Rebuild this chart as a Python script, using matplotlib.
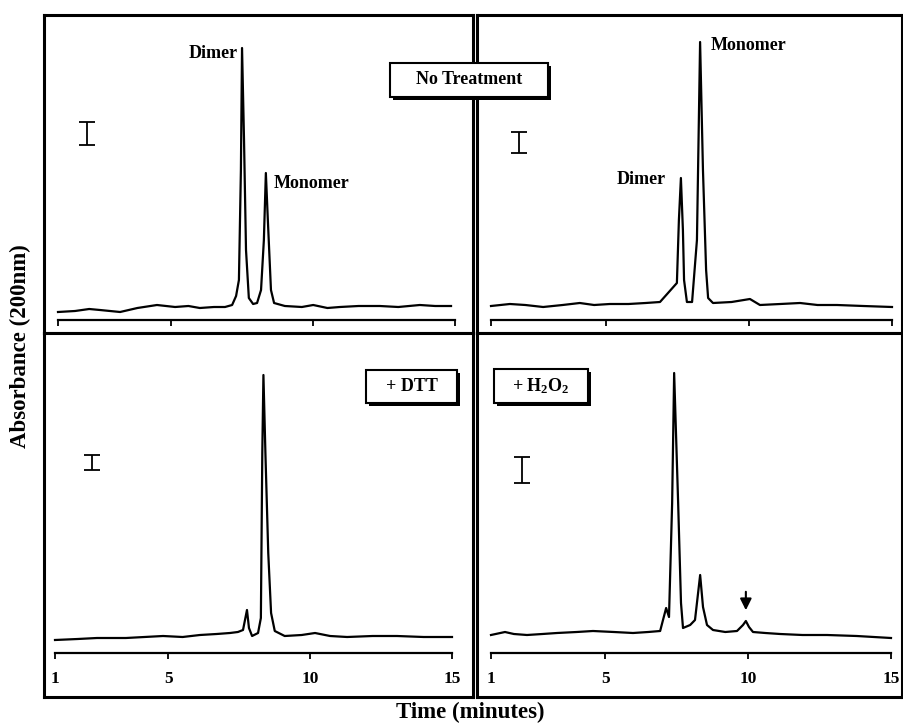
import matplotlib
matplotlib.use("Agg")
import matplotlib.pyplot as plt
from matplotlib.patches import Rectangle

# bold Times-like text everywhere, subscripts too
plt.rcParams['font.family'] = ['Liberation Serif', 'DejaVu Serif']
plt.rcParams['font.weight'] = 'bold'
plt.rcParams['mathtext.fontset'] = 'custom'
plt.rcParams['mathtext.rm'] = 'Liberation Serif:bold'
plt.rcParams['mathtext.it'] = 'Liberation Serif:bold'
plt.rcParams['mathtext.bf'] = 'Liberation Serif:bold'

# ---- data (time in minutes, absorbance in arbitrary units)
time_ticks = [1, 5, 10, 15]

notreat_a_time = [1.0, 1.6, 2.1, 2.48, 3.19, 3.8, 4.49, 5.13, 5.6, 6.0, 6.5, 6.89, 7.14, 7.28,
                  7.38, 7.45, 7.49, 7.56, 7.63, 7.73, 7.88, 8.02, 8.16, 8.26, 8.33, 8.40, 8.51,
                  8.62, 9.0, 9.6, 10.0, 10.5, 10.94, 11.6, 12.35, 13.0, 13.76, 14.3, 14.86]
notreat_a_abs = [8, 9, 11, 10, 8, 12, 15, 13, 14, 12, 13, 13, 15, 24,
                 40, 150, 272, 180, 70, 22, 16, 17, 30, 80, 147, 100, 30,
                 17, 14, 13, 15, 12, 13, 14, 14, 13, 15, 14, 14]

notreat_b_time = [1.0, 1.66, 2.2, 2.82, 3.5, 4.1, 4.6, 5.15, 5.8, 6.4, 6.9, 7.18, 7.49, 7.56,
                  7.63, 7.70, 7.74, 7.84, 8.02, 8.19, 8.30, 8.40, 8.51, 8.58, 8.75, 9.4,
                  10.04, 10.39, 11.1, 11.79, 12.4, 13.08, 14.0, 15.0]
notreat_b_abs = [14, 16, 15, 13, 15, 17, 15, 16, 16, 17, 18, 27, 37, 100,
                 142, 90, 40, 18, 18, 80, 278, 150, 50, 22, 17, 18,
                 21, 15, 16, 17, 15, 15, 14, 13]

dtt_time = [1.0, 1.8, 2.48, 3.5, 4.81, 5.5, 6.11, 6.7, 7.17, 7.45, 7.63, 7.77, 7.84, 7.95,
            8.16, 8.26, 8.31, 8.35, 8.42, 8.52, 8.62, 8.75, 9.1, 9.7, 10.17, 10.7, 11.3,
            12.2, 13.06, 14.0, 15.0]
dtt_abs = [13, 14, 15, 15, 17, 16, 18, 19, 20, 21, 23, 43, 25, 17,
           20, 35, 200, 278, 200, 100, 40, 22, 17, 18, 20, 17, 16,
           17, 17, 16, 16]

h2o2_time = [1.0, 1.49, 1.8, 2.26, 2.8, 3.31, 4.0, 4.57, 5.3, 5.97, 6.5, 6.92, 7.02, 7.13,
             7.23, 7.34, 7.41, 7.55, 7.65, 7.72, 7.97, 8.14, 8.32, 8.42, 8.56, 8.77, 9.2,
             9.61, 9.82, 9.92, 10.03, 10.17, 10.6, 11.12, 11.9, 12.76, 13.8, 15.0]
h2o2_abs = [18, 21, 19, 18, 19, 20, 21, 22, 21, 20, 21, 22, 33, 45,
            36, 150, 280, 150, 50, 25, 28, 33, 78, 46, 28, 23, 21,
            22, 28, 32, 26, 21, 20, 19, 18, 18, 17, 15]

# scale bars: (time, low, high)
scale_bars = [(2.02, 175, 198), (1.98, 167, 188), (2.30, 183, 198), (2.09, 170, 196)]

W, H = 904, 726


def frac(x0, y0, x1, y1):
    # pixel box (from top-left) -> figure fraction rect
    return [x0 / W, 1 - y1 / H, (x1 - x0) / W, (y1 - y0) / H]


panels = [
    dict(frame=(44, 15, 473, 333), inner=(58, 25, 455, 320), t=notreat_a_time, a=notreat_a_abs,
         top=295, labels=False,
         notes=[("Dimer", 7.35, 266, "right"), ("Monomer", 8.62, 137, "left")]),
    dict(frame=(477, 15, 902, 333), inner=(491, 25, 892, 320), t=notreat_b_time, a=notreat_b_abs,
         top=295, labels=False,
         notes=[("Monomer", 8.68, 275, "left"), ("Dimer", 7.11, 140, "right")]),
    dict(frame=(44, 333, 473, 697), inner=(55, 343, 452, 653), t=dtt_time, a=dtt_abs,
         top=310, labels=True, notes=[]),
    dict(frame=(477, 333, 902, 697), inner=(491, 343, 891, 653), t=h2o2_time, a=h2o2_abs,
         top=310, labels=True, notes=[]),
]

fig = plt.figure(figsize=(W / 100, H / 100), dpi=100)

for i, p in enumerate(panels):
    # thick panel frame
    fr = fig.add_axes(frac(*p['frame']))
    fr.set_xticks([])
    fr.set_yticks([])
    for s in fr.spines.values():
        s.set_linewidth(2.2)

    # chromatogram with its own time axis
    ax = fig.add_axes(frac(*p['inner']))
    ax.patch.set_alpha(0)
    ax.plot(p['t'], p['a'], color='black', lw=1.6, clip_on=False)
    ax.set_xlim(1, 15)
    ax.set_ylim(0, p['top'])
    ax.set_xticks(time_ticks)
    ax.tick_params(axis='x', direction='out', length=4, width=1.3, labelsize=12.5, pad=9,
                   labelbottom=p['labels'])
    ax.yaxis.set_visible(False)
    for side in ['top', 'left', 'right']:
        ax.spines[side].set_visible(False)
    ax.spines['bottom'].set_linewidth(1.6)

    bt, lo, hi = scale_bars[i]
    ax.errorbar([bt], [(lo + hi) / 2], yerr=[(hi - lo) / 2], color='black', lw=1.3,
                capsize=5.5, capthick=1.3, fmt='none')

    for txt, tx, ty, ha in p['notes']:
        ax.text(tx, ty, txt, ha=ha, va='center', fontsize=13)

    if i == 3:
        ax.annotate('', xy=(9.92, 40), xytext=(9.92, 64),
                    arrowprops=dict(arrowstyle='-|>', color='black', lw=1.5, mutation_scale=17))


def label_box(x0, y0, x1, y1, text):
    # white box with a drop shadow on the right/bottom
    fig.add_artist(Rectangle((x0 / W + 3 / W, 1 - (y1 + 3) / H), (x1 - x0) / W, (y1 - y0) / H,
                             transform=fig.transFigure, facecolor='black', edgecolor='none', zorder=5))
    fig.add_artist(Rectangle((x0 / W, 1 - y1 / H), (x1 - x0) / W, (y1 - y0) / H,
                             transform=fig.transFigure, facecolor='white', edgecolor='black',
                             lw=1.5, zorder=6))
    fig.text((x0 + x1) / 2 / W, 1 - (y0 + y1) / 2 / H, text, ha='center', va='center',
             fontsize=13, zorder=7)


label_box(390, 63, 548, 97, "No Treatment")
label_box(366, 370, 457, 403, "+ DTT")
label_box(494, 369, 588, 403, "+ H$_2$O$_2$")

fig.text(20 / W, 1 - 346 / H, "Absorbance (200nm)", rotation=90, ha='center', va='center',
         fontsize=16.5)
fig.text(470 / W, 1 - 712 / H, "Time (minutes)", ha='center', va='center', fontsize=16.5)

fig.savefig("out.png", dpi=100)
